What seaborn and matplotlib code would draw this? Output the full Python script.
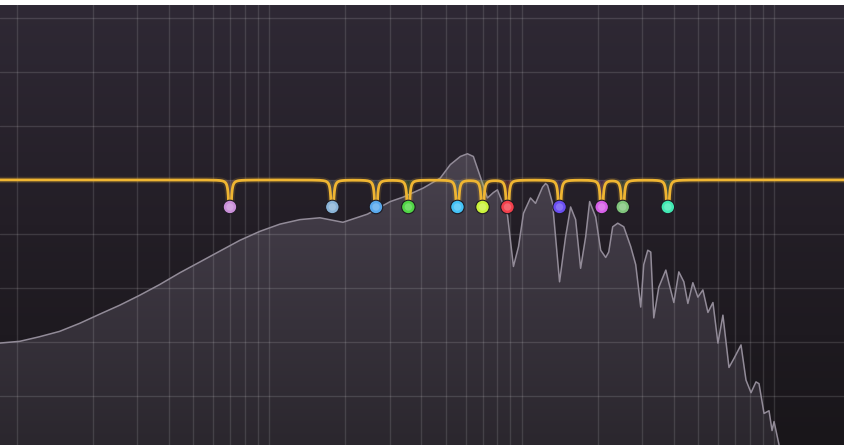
import numpy as np
import matplotlib
matplotlib.use("Agg")
import matplotlib.pyplot as plt
from matplotlib.colors import LinearSegmentedColormap, to_rgb
from matplotlib.path import Path
import seaborn as sns

# analyser spectrum (Hz, dB)
spec_freq = [8.0, 8.55, 10.3, 12.3, 14.8, 17.8, 21.3, 25.6, 30.7, 36.9,
             44.3, 53.2, 63.8, 76.6, 92.0, 110.5, 132.6, 159, 196, 245,
             302, 340, 408, 476, 522, 572, 610, 644, 687, 732,
             773, 802, 879, 928, 972, 1017, 1084, 1135, 1210, 1244,
             1267, 1326, 1413, 1493, 1563, 1636, 1712, 1793, 1859, 1964,
             2056, 2152, 2212, 2294, 2402, 2538, 2704, 2830, 2962, 3044,
             3158, 3246, 3336, 3492, 3724, 3826, 4006, 4192, 4388, 4552,
             4764, 4988, 5220, 5466, 5722, 5988, 6266, 6622, 6932, 7390,
             7734, 8096, 8472, 8708, 9116, 9540, 9808, 9988, 10456, 10800]
spec_db = [-18.2, -18.1, -17.9, -17.4, -16.8, -15.9, -14.9, -13.9, -12.8, -11.6,
           -10.3, -9.1, -7.9, -6.7, -5.7, -4.9, -4.4, -4.2, -4.7, -3.8,
           -2.4, -1.9, -0.9, 0.2, 1.7, 2.6, 2.9, 2.6, 0.3, -2.0,
           -1.4, -1.1, -3.9, -9.6, -7.4, -3.7, -2.0, -2.6, -0.8, -0.4,
           -0.6, -2.6, -11.3, -6.3, -3.0, -4.4, -9.8, -6.3, -2.4, -4.1,
           -7.8, -8.6, -8.0, -5.2, -4.8, -5.2, -7.4, -9.4, -14.1, -9.4,
           -7.8, -8.0, -15.3, -11.9, -10.0, -11.4, -13.6, -10.2, -11.3, -13.7,
           -11.4, -13.0, -12.2, -14.7, -13.6, -18.1, -15.0, -20.8, -19.8, -18.3,
           -22.2, -23.6, -22.4, -22.6, -25.9, -25.6, -27.8, -26.8, -29.4, -32.0]

# EQ notch bands
band_freq = [70, 178, 265, 356, 557, 700, 879, 1413, 2075, 2514, 3792]
band_colors = ["#c98fd8", "#8ab3d6", "#58a8ec", "#50d545", "#44c2f7", "#caf23b",
               "#f2404c", "#6a4ef2", "#d65fe8", "#80c47c", "#40e8b2"]
band_depth = -3.0
band_q = 45

grid_freq = [10, 20, 30, 40, 50, 60, 70, 80, 90, 100, 200, 300, 400, 500, 600,
             700, 800, 900, 1000, 2000, 3000, 4000, 5000, 6000, 7000, 8000, 9000, 10000]
grid_db = [-24, -18, -12, -6, 0, 6, 12, 18]

f_min, f_max = 8.6, 18900
db_min, db_max = -29.4, 19.4

sns.set_theme(style="dark")
plt.rcParams["savefig.facecolor"] = "white"

fig = plt.figure(figsize=(8.44, 4.45), dpi=100, facecolor="white")
pos = [0, 0, 1, 440 / 445]

# background + gradient fill of the spectrum (drawn behind the main axes)
ax_bg = fig.add_axes(pos, zorder=0)
ax_bg.axis("off")
ax = fig.add_axes(pos, zorder=1)
ax.set_facecolor("none")
ax.set_xscale("log")
ax.set_xlim(f_min, f_max)
ax.set_ylim(db_min, db_max)

ramp = np.linspace(1, 0, 256)[:, None]
bg_cmap = LinearSegmentedColormap.from_list("bg", ["#19161a", "#231e26", "#2f2935"])
ax_bg.imshow(ramp, extent=[0, 1, 0, 1], aspect="auto", cmap=bg_cmap, vmin=0, vmax=1)
fill_cmap = LinearSegmentedColormap.from_list("fill", ["#2b272e", "#403a45", "#5d5663"])
fill_img = ax_bg.imshow(ramp, extent=[0, 1, 0, 1], aspect="auto", cmap=fill_cmap, vmin=0, vmax=1)
ax_bg.set_xlim(0, 1)
ax_bg.set_ylim(0, 1)

poly = list(zip(spec_freq, spec_db)) + [(spec_freq[-1], db_min - 10),
                                        (spec_freq[0], db_min - 10),
                                        (spec_freq[0], spec_db[0])]
fill_img.set_clip_path(Path(poly, closed=True), ax.transData)

# grid
for f in grid_freq:
    ax.axvline(f, color="white", alpha=0.12, lw=1, zorder=1)
for d in grid_db:
    ax.axhline(d, color="white", alpha=0.13, lw=1, zorder=1)

# spectrum outline
sns.lineplot(x=spec_freq, y=spec_db, ax=ax, color="#928b98", lw=1.1,
             sort=False, estimator=None, zorder=2)

# EQ curve from the notch bands
eq_f = np.geomspace(f_min, f_max, 16000)
eq_db = np.zeros_like(eq_f)
for fc, c in zip(band_freq, band_colors):
    x = eq_f / fc - fc / eq_f
    h = np.maximum(10 * np.log10(x ** 2 / (x ** 2 + 1 / band_q ** 2) + 1e-12), band_depth)
    eq_db += h
    near = np.abs(np.log10(eq_f / fc)) < 0.02
    ax.fill_between(eq_f[near], h[near], 0, color=c, alpha=0.18, lw=0, zorder=3)
eq_db = np.maximum(eq_db, band_depth)

ax.plot(eq_f, eq_db, color="#f0b533", lw=4.5, alpha=0.15, zorder=4, solid_capstyle="round")
sns.lineplot(x=eq_f, y=eq_db, ax=ax, color="#efb532", lw=2.0, sort=False,
             estimator=None, zorder=5)

# band handles
sns.scatterplot(x=band_freq, y=[band_depth] * len(band_freq), hue=band_freq,
                palette=band_colors, s=95, edgecolor="#1d1a21", linewidth=0.8,
                legend=False, ax=ax, zorder=6)
light = [tuple(0.5 * np.array(to_rgb(c)) + 0.5) for c in band_colors]
ax.scatter(band_freq, [band_depth] * len(band_freq), s=28, c=light, alpha=0.4,
           lw=0, zorder=7)

ax.set_xlim(f_min, f_max)
ax.set_ylim(db_min, db_max)
ax.set_xticks([])
ax.set_yticks([])
ax.set_xlabel("")
ax.set_ylabel("")
ax.grid(False)
for s in ax.spines.values():
    s.set_visible(False)

fig.savefig("out.png", dpi=100)
